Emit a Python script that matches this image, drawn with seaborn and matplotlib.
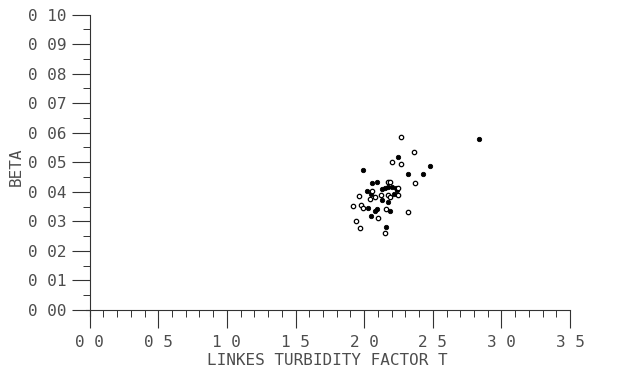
import matplotlib
matplotlib.use("Agg")
import matplotlib.pyplot as plt
import seaborn as sns
import pandas as pd
from matplotlib.ticker import FixedLocator, FixedFormatter, MultipleLocator

# Linke turbidity factor T vs. Angstrom beta
filled_t = [2.84, 2.25, 2.48, 1.99, 2.32, 2.43, 2.06, 2.09, 2.13, 2.15, 2.17,
            2.20, 2.23, 2.24, 2.22, 2.02, 2.05, 2.13, 2.17, 2.03, 2.08, 2.09,
            2.19, 2.05, 2.16]
filled_beta = [0.0578, 0.0519, 0.0488, 0.0474, 0.0459, 0.0459, 0.0429, 0.0433,
               0.0408, 0.0412, 0.0417, 0.0417, 0.0412, 0.0406, 0.0393, 0.0404,
               0.0393, 0.0372, 0.0367, 0.0346, 0.0336, 0.0343, 0.0334, 0.0318,
               0.0280]
open_t = [2.27, 2.36, 2.20, 2.27, 2.37, 2.17, 2.19, 2.25, 2.25, 2.06, 2.08,
          2.12, 2.17, 2.19, 1.96, 2.04, 1.92, 1.98, 1.99, 2.16, 2.32, 2.10,
          1.94, 1.97, 2.15]
open_beta = [0.0587, 0.0534, 0.0500, 0.0495, 0.0431, 0.0434, 0.0434, 0.0414,
             0.0389, 0.0403, 0.0384, 0.0389, 0.0389, 0.0381, 0.0386, 0.0375,
             0.0352, 0.0355, 0.0344, 0.0342, 0.0332, 0.0311, 0.0302, 0.0279,
             0.0262]

x_ticks = [0.0, 0.5, 1.0, 1.5, 2.0, 2.5, 3.0, 3.5]
x_labels = ["0 0", "0 5", "1 0", "1 5", "2 0", "2 5", "3 0", "3 5"]
y_ticks = [0.00, 0.01, 0.02, 0.03, 0.04, 0.05, 0.06, 0.07, 0.08, 0.09, 0.10]
y_labels = ["0 00", "0 01", "0 02", "0 03", "0 04", "0 05", "0 06", "0 07",
            "0 08", "0 09", "0 10"]

sns.set_theme(style="white")
plt.rcParams["font.family"] = ["DejaVu Sans Mono", "DejaVu Sans"]
ink = "#333333"
text_ink = "#4d4d4d"

filled = pd.DataFrame({"t": filled_t, "beta": filled_beta})
hollow = pd.DataFrame({"t": open_t, "beta": open_beta})

fig = plt.figure(figsize=(6.27, 3.67), dpi=100)
ax = fig.add_axes([85.5 / 627, 51.1 / 367, 484.6 / 627, 301.4 / 367])

sns.scatterplot(data=filled, x="t", y="beta", ax=ax, s=10, color="black",
                edgecolor="black", linewidth=0.6, legend=False)
sns.scatterplot(data=hollow, x="t", y="beta", ax=ax, s=10, facecolor="white",
                edgecolor="black", linewidth=0.9, legend=False)

ax.set_xlim(-0.03, 3.5)
ax.set_ylim(-0.002, 0.10)
for side in ("top", "right"):
    ax.spines[side].set_visible(False)
ax.spines["left"].set_position(("data", 0))
ax.spines["bottom"].set_position(("data", 0))
for side in ("left", "bottom"):
    ax.spines[side].set_color(ink)
    ax.spines[side].set_linewidth(0.8)

ax.xaxis.set_major_locator(FixedLocator(x_ticks))
ax.xaxis.set_major_formatter(FixedFormatter(x_labels))
ax.xaxis.set_minor_locator(MultipleLocator(0.1))
ax.yaxis.set_major_locator(FixedLocator(y_ticks))
ax.yaxis.set_major_formatter(FixedFormatter(y_labels))
ax.yaxis.set_minor_locator(MultipleLocator(0.005))

ax.tick_params(which="major", direction="out", length=13, width=0.8,
               color=ink, labelcolor=text_ink, labelsize=11.5)
ax.tick_params(which="minor", direction="out", length=5, width=0.7, color=ink)
ax.tick_params(axis="x", which="major", pad=5)
ax.tick_params(axis="y", which="major", pad=4)
ax.tick_params(axis="x", which="both", bottom=True)
ax.tick_params(axis="y", which="both", left=True)

ax.set_xlabel("LINKES TURBIDITY FACTOR T", fontsize=11.5, color=text_ink)
ax.set_ylabel("BETA", fontsize=11.5, color=text_ink)
ax.xaxis.set_label_coords(0.498, -0.123)
ax.yaxis.set_label_coords(-0.128, 0.494)

fig.savefig("out.png", dpi=100)
